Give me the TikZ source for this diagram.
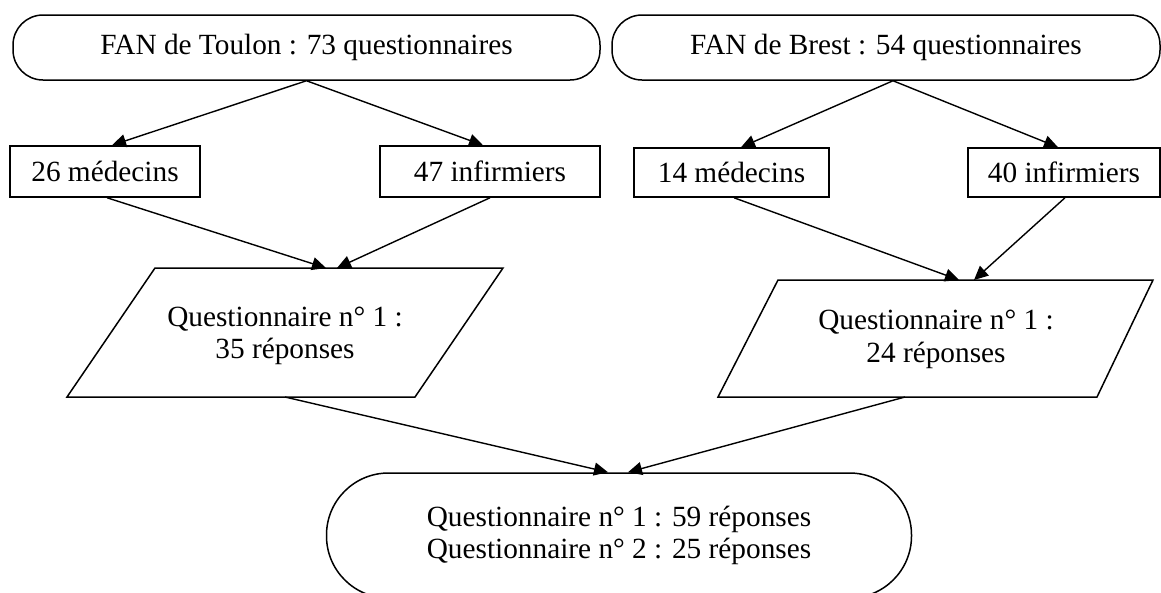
\documentclass[tikz,border=0pt]{standalone}
\usepackage{fontspec}
\setmainfont{Liberation Serif}
\usetikzlibrary{arrows.meta}
\begin{document}
\begin{tikzpicture}[x=1pt,y=-1pt,
  every node/.style={font=\fontsize{29.3}{32.5}\selectfont, inner sep=0pt},
  term/.style={draw, line width=1.5pt, rounded corners=30pt},
  cnt/.style={draw, line width=1.5pt},
  conn/.style={line width=1.4pt, -{Triangle[length=14pt,width=13pt]}},
  lab/.style={align=center}]
\useasboundingbox (0,0) rectangle (1161,592);
\clip (0,0) rectangle (1161,592);
\node[term, minimum width=587pt, minimum height=65pt] (toulon) at (306.5,47.5) {FAN de Toulon : 73 questionnaires};
\node[term, minimum width=548pt, minimum height=65pt] (brest) at (886,47.5) {FAN de Brest : 54 questionnaires};
\node[cnt, minimum width=190pt, minimum height=51pt] (med1) at (105,171.5) {26 médecins};
\node[cnt, minimum width=220pt, minimum height=51pt] (inf1) at (490,171.5) {47 infirmiers};
\node[cnt, minimum width=195pt, minimum height=49pt] (med2) at (731.5,172.5) {14 médecins};
\node[cnt, minimum width=192pt, minimum height=49pt] (inf2) at (1064,172.5) {40 infirmiers};
\draw[cnt] (155,268) -- (503,268) -- (415,397) -- (67,397) -- cycle;
\node[lab] (q1) at (285,336) {Questionnaire n° 1 :\\35 réponses};
\draw[cnt] (778,280) -- (1153,280) -- (1097,397) -- (718,397) -- cycle;
\node[lab] (q2) at (936,339.5) {Questionnaire n° 1 :\\24 réponses};
\coordinate (q1top) at (331,268);
\coordinate (q1bot) at (285,397);
\coordinate (q2top) at (966,280);
\coordinate (q2bot) at (905,397);
\node[term, rounded corners=62pt, minimum width=585pt, minimum height=125pt, lab] (final) at (619,535.5) {Questionnaire n° 1 : 59 réponses\\Questionnaire n° 2 : 25 réponses};
\draw[conn] (toulon.south) -- ([xshift=7pt]med1.north);
\draw[conn] (toulon.south) -- ([xshift=-7pt]inf1.north);
\draw[conn] ([xshift=7pt]brest.south) -- ([xshift=9.5pt]med2.north);
\draw[conn] ([xshift=7pt]brest.south) -- ([xshift=-6pt]inf2.north);
\draw[conn] ([xshift=2pt]med1.south) -- ([xshift=-5pt]q1top);
\draw[conn] (inf1.south) -- ([xshift=6pt]q1top);
\draw[conn] ([xshift=2.5pt]med2.south) -- ([xshift=-7pt]q2top);
\draw[conn] ([xshift=1pt]inf2.south) -- ([xshift=8pt]q2top);
\draw[conn] (q1bot) -- ([xshift=-11pt]final.north);
\draw[conn] (q2bot) -- ([xshift=9pt]final.north);
\end{tikzpicture}
\end{document}
